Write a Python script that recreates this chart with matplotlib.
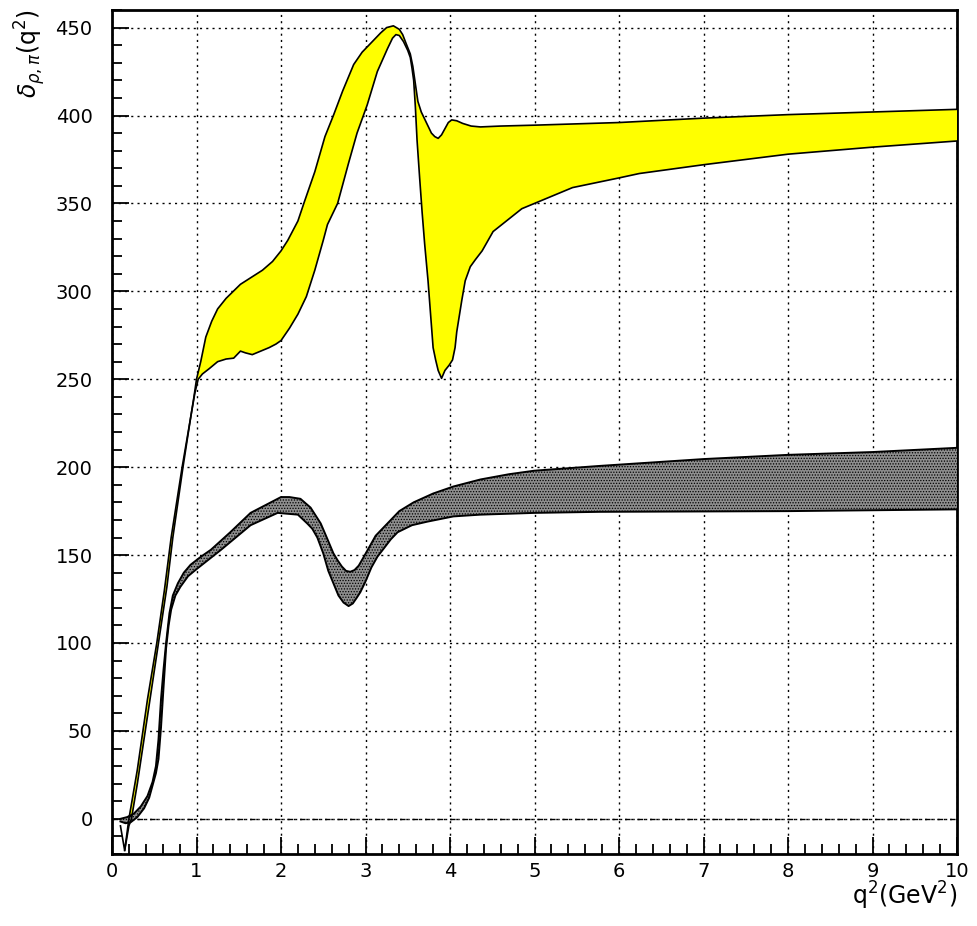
import matplotlib
matplotlib.use('Agg')
import matplotlib.pyplot as plt
from matplotlib.ticker import MultipleLocator

# yellow band (rho contribution), upper and lower edges
yel_up_q2 = [0.10, 0.15, 0.20, 0.30, 0.42, 0.53, 0.62, 0.70, 0.83, 0.93, 0.97, 1.00, 1.05,
             1.11, 1.18, 1.25, 1.35, 1.52, 1.65, 1.78, 1.90, 2.00, 2.08, 2.20, 2.27, 2.40,
             2.52, 2.62, 2.73, 2.86, 2.96, 3.06, 3.18, 3.25, 3.33, 3.40, 3.44, 3.48, 3.53,
             3.56, 3.59, 3.62, 3.66, 3.70, 3.74, 3.78, 3.82, 3.86, 3.90, 3.94, 3.98, 4.02,
             4.08, 4.15, 4.25, 4.36, 4.60, 5.00, 6.00, 7.00, 8.00, 9.00, 10.0]
yel_up = [-4, -18, 0, 28, 68, 100, 130, 160, 200, 228, 240, 250, 260,
          274, 283, 290, 296, 304, 308, 312, 317, 323, 329, 340, 350, 368,
          388, 400, 414, 429, 436, 441, 447, 450, 451, 449, 446, 441, 435,
          428, 418, 408, 402, 398, 394, 390, 388, 387, 389, 392.5, 396, 397.5,
          397, 395.5, 394, 393.5, 394, 394.5, 396, 398.5, 400.5, 402, 403.5]

yel_lo_q2 = [0.15, 0.20, 0.23, 0.30, 0.45, 0.55, 0.65, 0.72, 0.84, 0.93, 0.98, 1.02, 1.07,
             1.15, 1.25, 1.35, 1.44, 1.52, 1.58, 1.66, 1.76, 1.86, 1.94, 2.00, 2.10, 2.20,
             2.30, 2.40, 2.50, 2.55, 2.67, 2.80, 2.90, 3.02, 3.14, 3.26, 3.32, 3.36, 3.40,
             3.45, 3.50, 3.53, 3.55, 3.57, 3.59, 3.61, 3.64, 3.67, 3.70, 3.74, 3.77, 3.80,
             3.83, 3.86, 3.90, 3.94, 3.99, 4.03, 4.06, 4.08, 4.11, 4.14, 4.18, 4.24, 4.30,
             4.38, 4.51, 4.85, 5.00, 5.45, 6.00, 6.24, 7.00, 8.00, 9.00, 10.0]
yel_lo = [-18, -4, 0, 20, 68, 100, 132, 160, 200, 228, 242, 250, 253,
          256, 260, 261.5, 262, 266, 265, 264, 266, 268, 270, 272, 279, 287,
          297, 312, 329, 338, 350, 373, 390, 406, 425, 438, 444, 446, 445.5,
          442, 437, 433, 427, 420, 405, 386, 365, 345, 327, 306, 287, 268,
          261, 255, 250.5, 255, 258, 261, 268, 277, 286, 295, 306, 314, 318,
          323, 334, 347, 350, 359, 364.5, 367, 372, 378, 382, 385.5]

# gray band (omega/phi contribution), upper and lower edges
gry_up_q2 = [0.10, 0.18, 0.26, 0.34, 0.42, 0.48, 0.52, 0.55, 0.58, 0.61, 0.64, 0.68, 0.72,
             0.78, 0.85, 0.93, 1.05, 1.17, 1.40, 1.64, 1.88, 2.00, 2.10, 2.23, 2.35, 2.47,
             2.55, 2.62, 2.67, 2.72, 2.77, 2.82, 2.87, 2.92, 2.98, 3.05, 3.12, 3.20, 3.26,
             3.40, 3.57, 3.80, 4.04, 4.36, 4.70, 5.00, 5.77, 7.00, 8.00, 9.00, 10.0]
gry_up = [0, 1, 3, 7, 13, 21, 30, 45, 68, 85, 100, 117, 127,
          134, 140, 144.5, 149, 153, 163, 174, 180, 183, 183, 182, 177, 168,
          159, 151, 147, 143.5, 141, 140.5, 141.5, 144, 149, 155, 161, 165, 168,
          175, 180, 185, 189, 193, 196, 198, 200.7, 204.6, 207, 208.6, 211]

gry_lo_q2 = [0.10, 0.16, 0.22, 0.30, 0.38, 0.44, 0.48, 0.52, 0.55, 0.58, 0.61, 0.64, 0.67,
             0.70, 0.75, 0.81, 0.90, 1.00, 1.29, 1.64, 1.96, 2.20, 2.31, 2.37, 2.43, 2.50,
             2.56, 2.62, 2.68, 2.74, 2.80, 2.85, 2.90, 2.94, 3.00, 3.07, 3.14, 3.22, 3.30,
             3.38, 3.55, 3.73, 4.04, 4.36, 5.00, 5.77, 8.00, 10.0]
gry_lo = [-1.5, -2.5, -2, 1, 6, 12, 19, 26, 34, 52, 75, 97, 110,
          119, 127, 132, 138, 142, 153, 167, 174, 173, 168, 165, 160, 151,
          141, 134, 127, 123, 121, 122.5, 126, 129, 135, 143, 149, 154, 159,
          163, 167, 169, 172, 173, 174, 174.6, 175, 176]

plt.rcParams['hatch.linewidth'] = 0.6
plt.rcParams['hatch.color'] = 'black'

fig = plt.figure(figsize=(9.78, 9.26), dpi=100)
ax = fig.add_axes([112 / 978, 72 / 926, 845 / 978, 844 / 926])

# yellow band
ax.fill(yel_up_q2 + yel_lo_q2[::-1], yel_up + yel_lo[::-1],
        facecolor='#ffff00', edgecolor='none', zorder=3)
ax.plot(yel_up_q2, yel_up, color='black', lw=1.2, zorder=4)
ax.plot(yel_lo_q2, yel_lo, color='black', lw=1.2, zorder=4)

# gray hatched band
ax.fill(gry_up_q2 + gry_lo_q2[::-1], gry_up + gry_lo[::-1],
        facecolor='#8e8e8e', edgecolor='black', hatch='......', lw=0, zorder=3)
ax.plot(gry_up_q2, gry_up, color='black', lw=1.4, zorder=4)
ax.plot(gry_lo_q2, gry_lo, color='black', lw=1.4, zorder=4)

ax.axhline(0, color='black', lw=1.0, ls=(0, (4, 2, 1, 2)), zorder=2)

ax.set_xlim(0, 10)
ax.set_ylim(-20, 460)
ax.xaxis.set_major_locator(MultipleLocator(1))
ax.xaxis.set_minor_locator(MultipleLocator(0.2))
ax.yaxis.set_major_locator(MultipleLocator(50))
ax.yaxis.set_minor_locator(MultipleLocator(10))
ax.grid(True, which='major', color='black', lw=1.0, ls=(0, (1.5, 3)), zorder=1)
ax.set_axisbelow(True)

ax.tick_params(which='both', direction='in', width=1.3, labelsize=14)
ax.tick_params(which='major', length=12)
ax.tick_params(which='minor', length=7)
ax.tick_params(axis='y', pad=14)
ax.tick_params(axis='x', pad=6)
for s in ax.spines.values():
    s.set_linewidth(2)

fig.text(957 / 978, 1 - 905 / 926, r'$\mathrm{q^2(GeV^2)}$', ha='right', va='baseline', fontsize=17)
fig.text(0.031, 0.99, r'$\delta_{\rho,\pi}(\mathrm{q}^2)$', rotation=90, ha='center', va='top', fontsize=17)

fig.savefig('out.png', dpi=100)
